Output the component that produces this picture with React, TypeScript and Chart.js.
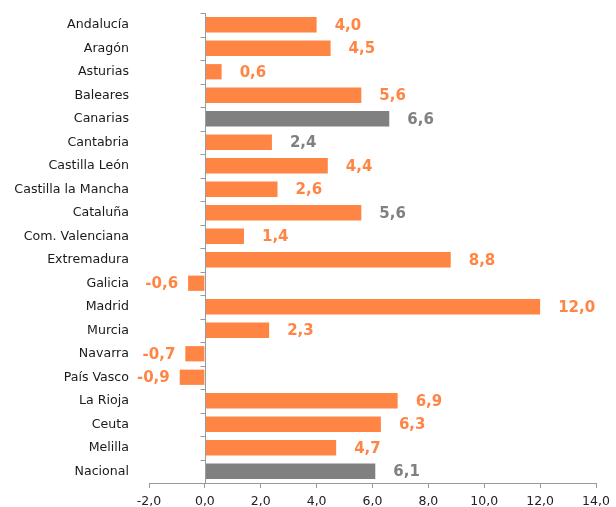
import React, { useEffect, useRef } from "react";
import { Chart, registerables } from "chart.js";

Chart.register(...registerables);

const categories = [
  "Andalucía", "Aragón", "Asturias", "Baleares", "Canarias", "Cantabria",
  "Castilla León", "Castilla la Mancha", "Cataluña", "Com. Valenciana",
  "Extremadura", "Galicia", "Madrid", "Murcia", "Navarra", "País Vasco",
  "La Rioja", "Ceuta", "Melilla", "Nacional",
];
const values = [
  4.0, 4.5, 0.6, 5.6, 6.6, 2.4, 4.4, 2.6, 5.6, 1.4,
  8.8, -0.6, 12.0, 2.3, -0.7, -0.9, 6.9, 6.3, 4.7, 6.1,
];
const highlighted = ["Canarias", "Nacional"];
const grayLabels = ["Canarias", "Cantabria", "Cataluña", "Nacional"];

const ORANGE = "#FF8545";
const GRAY = "#808080";
const AXIS = "#9a9a9a";

const fmt = (v: number) => v.toFixed(1).replace(".", ",");

const overlayPlugin = {
  id: "overlay",
  afterDatasetsDraw(chart: any) {
    const ctx = chart.ctx;
    const x = chart.scales.x;
    const area = chart.chartArea;
    const x0 = Math.round(x.getPixelForValue(0)) + 0.5;
    ctx.save();
    ctx.strokeStyle = AXIS;
    ctx.lineWidth = 1;
    ctx.beginPath();
    ctx.moveTo(x0, area.top);
    ctx.lineTo(x0, area.bottom);
    ctx.stroke();
    const n = categories.length;
    const step = (area.bottom - area.top) / n;
    for (let i = 0; i < n; i++) {
      const yy = Math.round(area.top + i * step) + 0.5;
      ctx.beginPath();
      ctx.moveTo(x0 - 5, yy);
      ctx.lineTo(x0, yy);
      ctx.stroke();
    }
    const meta = chart.getDatasetMeta(0);
    ctx.font = "bold 15px 'DejaVu Sans'";
    ctx.textBaseline = "middle";
    meta.data.forEach((bar: any, i: number) => {
      const v = values[i];
      ctx.fillStyle = grayLabels.includes(categories[i]) ? GRAY : ORANGE;
      const txt = fmt(v);
      if (v >= 0) {
        ctx.textAlign = "left";
        ctx.fillText(txt, bar.x + 18, bar.y + 1);
      } else {
        ctx.textAlign = "right";
        ctx.fillText(txt, bar.x - 10, bar.y + 1);
      }
    });
    ctx.restore();
  },
};

export default function App() {
  const ref = useRef<HTMLCanvasElement | null>(null);
  useEffect(() => {
    if (!ref.current) return;
    Chart.defaults.font.family = "'DejaVu Sans'";
    const chart = new Chart(ref.current, {
      type: "bar",
      data: {
        labels: categories,
        datasets: [
          {
            data: values,
            backgroundColor: categories.map((c) => (highlighted.includes(c) ? GRAY : ORANGE)),
            borderWidth: 0,
            categoryPercentage: 1,
            barPercentage: 0.65,
          },
        ],
      },
      options: {
        indexAxis: "y",
        animation: false,
        responsive: false,
        maintainAspectRatio: false,
        layout: { padding: { top: 13, right: 20, bottom: 0, left: 0 } },
        plugins: { legend: { display: false }, tooltip: { enabled: false } },
        scales: {
          x: {
            min: -2,
            max: 14,
            ticks: {
              stepSize: 2,
              color: "#222",
              font: { size: 12.5 },
              padding: 6,
              callback: (v: any) => fmt(Number(v)),
              maxRotation: 0,
            },
            grid: { drawOnChartArea: false, drawTicks: true, tickLength: 5, color: AXIS },
            border: { display: true, color: AXIS },
            afterFit: (s: any) => {
              s.height = 24;
              s.paddingLeft = 0;
              s.paddingRight = 0;
            },
          },
          y: {
            type: "category",
            ticks: { color: "#1a1a1a", font: { size: 12.6 }, padding: 20, autoSkip: false },
            grid: { display: false, drawTicks: false },
            border: { display: false },
            afterFit: (s: any) => {
              s.width = 149;
              s.paddingTop = 0;
              s.paddingBottom = 0;
            },
          },
        },
      },
      plugins: [overlayPlugin],
    });
    return () => chart.destroy();
  }, []);
  return (
    <div style={{ position: "fixed", left: 0, top: 0, width: 616, height: 507, background: "#fff" }}>
      <canvas ref={ref} width={616} height={507} style={{ width: 616, height: 507 }} />
    </div>
  );
}
